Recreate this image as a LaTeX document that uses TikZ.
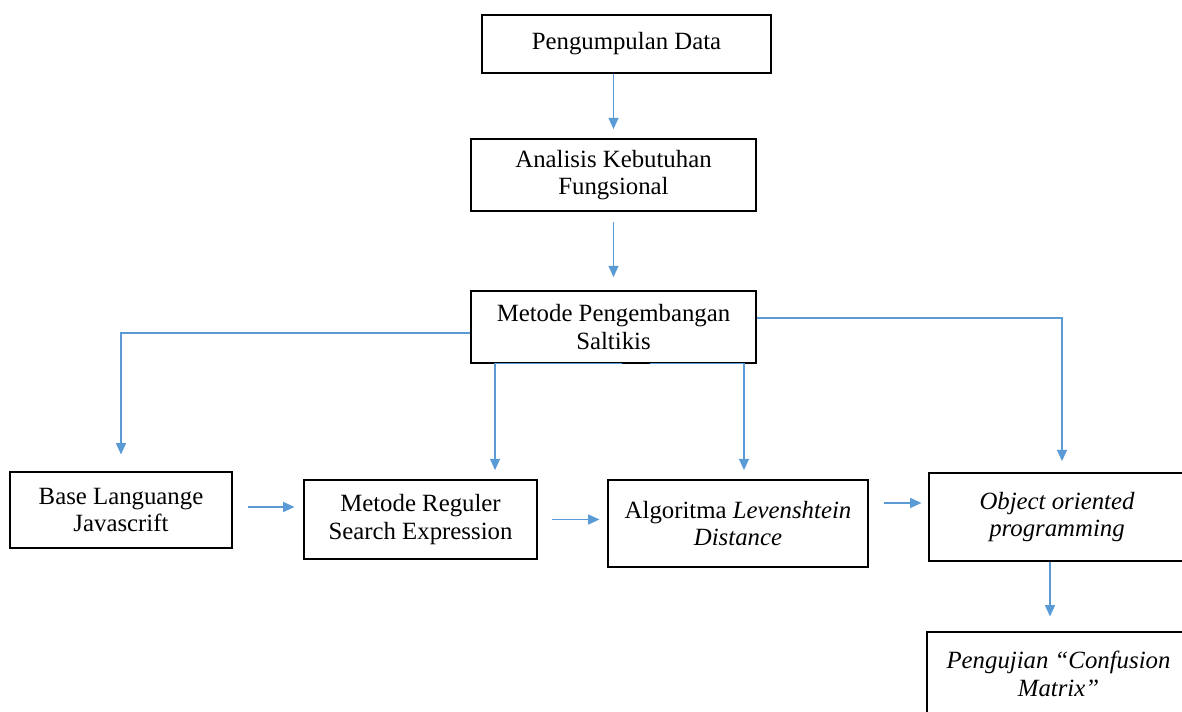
\documentclass[tikz,border=0pt]{standalone}
\usepackage{fontspec}
\setmainfont{Liberation Serif}
\usepackage{tikz}
\usetikzlibrary{arrows.meta, positioning, calc}
\definecolor{flowblue}{RGB}{91,155,213}

\begin{document}
\begin{tikzpicture}[x=0.75pt, y=-0.75pt,
  box/.style={draw, line width=0.8pt, align=center, inner sep=2pt, font=\fontsize{18.6}{20.5}\selectfont},
  flow/.style={draw=flowblue, line width=1.1pt, -{Triangle[length=8.5pt, width=7.5pt]}, shorten >=7pt}]
\useasboundingbox (0,0) rectangle (1182,712);

\node[box, minimum width=216.75pt, minimum height=43.5pt] (data) at (626.5,44) {Pengumpulan Data};
\node[box, minimum width=213.75pt, minimum height=54pt] (analisis) at (613.5,175) {Analisis Kebutuhan\\Fungsional};
\node[box, minimum width=213.75pt, minimum height=54pt] (metode) at (613.5,327) {Metode Pengembangan\\Saltikis};
\node[box, minimum width=166.5pt, minimum height=57pt] (base) at (121,510) {Base Languange\\Javascrift};
\node[box, minimum width=174.75pt, minimum height=59.25pt] (regex) at (420.5,519.5) {Metode Reguler\\Search Expression};
\node[box, minimum width=195pt, minimum height=65.25pt] (leven) at (738,523.5) {Algoritma \textit{Levenshtein}\\\textit{Distance}};
\node[box, minimum width=192pt, minimum height=66pt] (oop) at (1057,517) {\textit{Object oriented}\\\textit{programming}};
\node[box, minimum width=197.25pt, minimum height=63pt] (uji) at (1058.5,674) {\textit{Pengujian “Confusion}\\\textit{Matrix”}};

\draw[flow] (data.south -| analisis.north) -- (analisis.north);
\draw[flow, shorten <=8pt, shorten >=10pt] (analisis) -- (metode);
\draw[flow, shorten >=12.75pt] ([yshift=-4.5pt]metode.west) -| (base.north);
\draw[flow] ([xshift=6.4pt]metode.south) -| ([xshift=55.9pt]regex.north);
\draw[flow] ([xshift=27.4pt]metode.south) -| ([xshift=4.5pt]leven.north);
\draw[flow, shorten >=8.5pt] ([yshift=6.75pt]metode.east) -| ([xshift=3.75pt]oop.north);
\draw[flow, shorten <=11.25pt, shorten >=6.75pt] ([yshift=2.25pt]base.east) -- ([yshift=2.25pt]base.east -| regex.west);
\draw[flow, shorten <=10.5pt, shorten >=6pt] (regex.east) -- (regex.east -| leven.west);
\draw[flow, shorten <=11.25pt, shorten >=5.25pt] ([yshift=15.4pt]leven.east) -- ([yshift=15.4pt]leven.east -| oop.west);
\draw[flow, shorten >=11.25pt] ([xshift=-5.25pt]oop.south) -- ([xshift=-5.25pt]oop.south |- uji.north);
\end{tikzpicture}
\end{document}
